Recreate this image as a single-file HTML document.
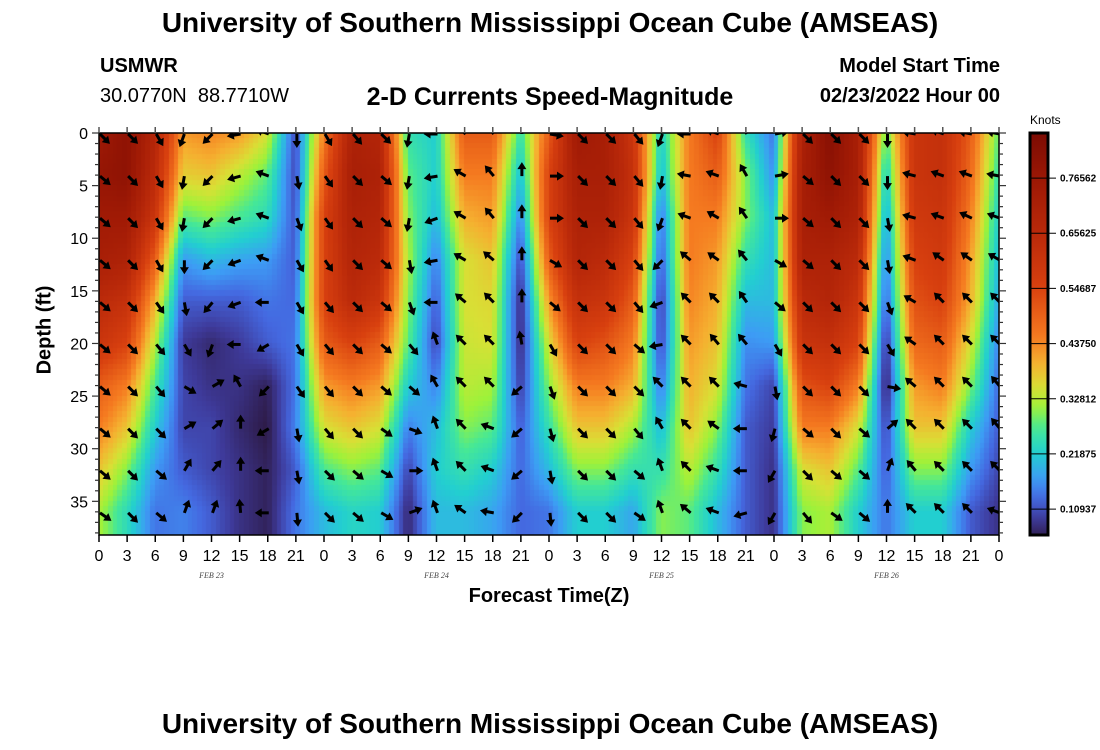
<!DOCTYPE html>
<html><head><meta charset="utf-8">
<style>
body{margin:0;background:#fff;width:1100px;height:750px;overflow:hidden;position:relative;font-family:"Liberation Sans",sans-serif;}
.t{position:absolute;white-space:nowrap;color:#000;}
canvas{position:absolute;left:99px;top:133px;}
svg{position:absolute;left:0;top:0;}
</style></head><body>
<div class="t" style="left:0;width:1100px;text-align:center;top:7px;font-size:28px;font-weight:bold;">University of Southern Mississippi Ocean Cube (AMSEAS)</div>
<div class="t" style="left:100px;top:55px;font-size:20px;font-weight:bold;">USMWR</div>
<div class="t" style="left:100px;top:85px;font-size:20px;">30.0770N&nbsp; 88.7710W</div>
<div class="t" style="left:0;width:1100px;text-align:center;top:83px;font-size:25px;font-weight:bold;">2-D Currents Speed-Magnitude</div>
<div class="t" style="right:100px;top:55px;font-size:20px;font-weight:bold;">Model Start Time</div>
<div class="t" style="right:100px;top:85px;font-size:20px;font-weight:bold;">02/23/2022 Hour 00</div>
<div class="t" style="left:0;width:1098px;text-align:center;top:585px;font-size:20px;font-weight:bold;">Forecast Time(Z)</div>
<div class="t" style="left:45px;top:330px;font-size:20px;font-weight:bold;transform:translate(-50%,-50%) rotate(-90deg);">Depth (ft)</div>
<div class="t" style="left:1030px;top:113px;font-size:12px;">Knots</div>
<div class="t" style="left:0;width:1100px;text-align:center;top:708px;font-size:28px;font-weight:bold;">University of Southern Mississippi Ocean Cube (AMSEAS)</div>
<canvas id="hm" width="900" height="402"></canvas>
<svg id="sv" width="1100" height="750"></svg>
<script>
const hours=[0,3,6,9,12,15,18,21,24,27,30,33,36,39,42,45,48,51,54,57,60,63,66,69,72,75,78,81,84,87,90,93,96];
const depths=[0,4,8,12,16,20,24,28,32,36];
const speed=[
[.75,.78,.75,.72,.65,.6,.5,.45,.38,.32],
[.8,.8,.75,.7,.62,.55,.45,.38,.3,.24],
[.68,.65,.6,.5,.4,.33,.27,.22,.17,.14],
[.42,.37,.28,.17,.12,.09,.1,.1,.12,.15],
[.44,.38,.3,.2,.12,.07,.08,.1,.1,.12],
[.42,.33,.27,.18,.12,.09,.08,.07,.08,.08],
[.35,.28,.24,.17,.14,.12,.06,.05,.06,.06],
[.1,.1,.11,.12,.13,.14,.14,.15,.12,.14],
[.45,.5,.55,.55,.55,.5,.42,.35,.27,.2],
[.7,.72,.7,.68,.65,.55,.45,.38,.3,.23],
[.68,.7,.68,.65,.6,.5,.42,.35,.28,.22],
[.25,.28,.3,.32,.3,.28,.22,.15,.1,.07],
[.22,.22,.2,.15,.12,.1,.15,.2,.22,.2],
[.5,.45,.4,.35,.35,.34,.33,.3,.25,.2],
[.5,.45,.42,.38,.36,.35,.32,.28,.22,.18],
[.25,.2,.15,.1,.07,.07,.09,.12,.13,.13],
[.5,.55,.55,.5,.42,.35,.3,.25,.2,.14],
[.75,.72,.7,.68,.62,.55,.45,.38,.3,.22],
[.72,.72,.7,.65,.6,.52,.45,.38,.3,.22],
[.6,.62,.6,.55,.5,.45,.4,.32,.25,.18],
[.22,.2,.14,.12,.09,.1,.14,.2,.25,.3],
[.45,.45,.45,.45,.44,.42,.4,.38,.33,.28],
[.55,.5,.45,.42,.4,.38,.35,.3,.25,.2],
[.25,.3,.3,.25,.2,.16,.14,.12,.12,.12],
[.14,.16,.2,.2,.2,.17,.1,.09,.08,.08],
[.7,.72,.72,.7,.65,.6,.52,.45,.35,.3],
[.82,.8,.75,.7,.68,.62,.55,.45,.38,.32],
[.72,.72,.7,.65,.6,.55,.45,.35,.28,.22],
[.28,.22,.18,.15,.12,.08,.06,.1,.12,.14],
[.6,.6,.58,.55,.52,.48,.42,.38,.3,.22],
[.62,.62,.6,.58,.55,.5,.45,.38,.3,.22],
[.5,.48,.45,.42,.4,.35,.3,.22,.17,.12],
[.28,.25,.22,.2,.18,.15,.13,.12,.1,.08]];
const direction=[
[45,40,40,40,40,40,40,40,40,35],
[45,45,45,45,45,45,45,45,45,45],
[60,60,60,60,55,50,50,45,40,40],
[110,100,100,90,80,60,30,330,300,290],
[135,135,135,135,130,110,330,320,310,290],
[170,165,165,160,160,180,240,270,270,265],
[200,200,200,200,180,150,135,150,180,180],
[90,80,70,60,60,60,55,80,80,85],
[60,55,55,55,50,50,50,50,45,45],
[50,45,45,45,45,45,45,45,40,40],
[45,40,40,40,40,40,40,35,30,30],
[100,100,100,80,70,50,40,20,0,340],
[180,170,160,170,180,250,240,250,250,250],
[220,210,210,210,220,225,225,225,225,215],
[230,230,230,220,225,225,225,200,200,190],
[270,270,270,270,270,260,140,140,140,135],
[10,0,0,30,40,60,70,75,80,85],
[45,45,45,45,45,45,45,45,45,45],
[45,45,45,45,45,45,45,45,45,45],
[50,50,50,50,50,40,45,50,40,35],
[110,100,110,135,160,170,225,240,250,250],
[180,190,200,220,225,225,225,225,225,220],
[200,200,210,215,225,230,225,215,200,200],
[240,240,235,230,235,230,195,180,180,165],
[350,350,0,30,40,60,80,105,120,120],
[45,40,40,40,45,45,45,40,45,50],
[45,45,45,45,45,45,45,45,40,35],
[45,45,45,45,45,45,45,40,40,40],
[90,90,80,80,70,60,10,320,290,270],
[190,195,195,200,210,215,220,225,230,225],
[200,200,200,215,225,225,225,225,225,225],
[190,200,205,215,225,225,225,225,225,225],
[190,190,200,210,225,225,230,230,225,200]];
const xTicks=[0,3,6,9,12,15,18,21,0,3,6,9,12,15,18,21,0,3,6,9,12,15,18,21,0,3,6,9,12,15,18,21,0];
const yTicks=[0,5,10,15,20,25,30,35];
const dateLabels=["FEB 23","FEB 24","FEB 25","FEB 26"];
const cbTicks=["0.76562","0.65625","0.54687","0.43750","0.32812","0.21875","0.10937"];
const cbVals=[0.765625,0.65625,0.546875,0.4375,0.328125,0.21875,0.109375];

const X0=99,X1=999,Y0=133,Y1=535,HMAX=96,DMAX=38.2;
const xs=h=>X0+(X1-X0)*h/HMAX;
const ys=d=>Y0+(Y1-Y0)*d/DMAX;
const CB_TOP=133,CB_BOT=535,VMAX=0.855,VMIN=0.058;
const cbY=v=>CB_TOP+(VMAX-v)/(VMAX-VMIN)*(CB_BOT-CB_TOP);
const stops=[[0.05,[45,26,69]],[0.09,[62,58,154]],[0.13,[68,104,224]],[0.17,[61,156,245]],[0.22,[34,207,208]],[0.27,[70,232,150]],[0.31,[156,242,58]],[0.35,[216,224,53]],[0.40,[245,176,48]],[0.45,[245,122,32]],[0.55,[216,64,15]],[0.65,[187,42,10]],[0.75,[160,26,5]],[0.86,[122,10,3]]];
function cmap(v){
  if(v<=stops[0][0])return stops[0][1];
  for(let i=1;i<stops.length;i++){if(v<=stops[i][0]){const a=stops[i-1],b=stops[i],t=(v-a[0])/(b[0]-a[0]);return a[1].map((c,k)=>Math.round(c+(b[1][k]-c)*t));}}
  return stops[stops.length-1][1];
}
const ctx=document.getElementById('hm').getContext('2d');
function sample(h,d){
  let i=Math.min(hours.length-2,Math.max(0,Math.floor(h/3)));let th=(h-hours[i])/3;th=Math.max(0,Math.min(1,th));
  let j=Math.min(depths.length-2,Math.max(0,Math.floor(d/4)));let td=(d-depths[j])/4;td=Math.max(0,Math.min(1,td));
  const a=speed[i][j]*(1-th)+speed[i+1][j]*th, b=speed[i][j+1]*(1-th)+speed[i+1][j+1]*th;
  return a*(1-td)+b*td;
}
const CW=9.375/2,CH=402/38.2*0.5;
for(let px=0;px<900;px+=CW){for(let py=0;py<402;py+=CH){
  const h=(px+CW/2)/900*HMAX,d=(py+CH/2)/402*DMAX;
  const c=cmap(sample(h,d));ctx.fillStyle=`rgb(${c[0]},${c[1]},${c[2]})`;
  ctx.fillRect(Math.floor(px),Math.floor(py),Math.ceil(CW)+1,Math.ceil(CH)+1);
}}
const NS='http://www.w3.org/2000/svg',sv=document.getElementById('sv');
function el(tag,attrs,txt,parent){const e=document.createElementNS(NS,tag);for(const k in attrs)e.setAttribute(k,attrs[k]);if(txt!==undefined)e.textContent=txt;(parent||sv).appendChild(e);return e;}
const defs=el('defs',{});
const cp=el('clipPath',{id:'plotclip'},undefined,defs);
el('rect',{x:X0,y:Y0,width:X1-X0,height:Y1-Y0},undefined,cp);
const arrows=el('g',{'clip-path':'url(#plotclip)'});


hours.forEach((h,i)=>depths.forEach((d,j)=>{
  const a=direction[i][j]*Math.PI/180,x=xs(h)+1,y=ys(d)+1,L=14;
  const ex=x+L*Math.cos(a),ey=y+L*Math.sin(a);
  const g=el('g',{},undefined,arrows);
  
  
  el('line',{x1:x,y1:y,x2:x+(L-5)*Math.cos(a),y2:y+(L-5)*Math.sin(a),stroke:'#000','stroke-width':3},undefined,g);
  const bx=ex-7*Math.cos(a),by=ey-7*Math.sin(a),nx=-Math.sin(a)*4.5,ny=Math.cos(a)*4.5;
  el('polygon',{points:`${ex},${ey} ${bx+nx},${by+ny} ${bx-nx},${by-ny}`,fill:'#000'},undefined,g);
}));
const fr=el('rect',{x:X0,y:Y0,width:X1-X0,height:Y1-Y0,fill:'none',stroke:'#000','stroke-width':1.5});


xTicks.forEach((t,i)=>{
  const x=xs(hours[i]);
  el('line',{x1:x,y1:Y1,x2:x,y2:Y1+7,stroke:'#000','stroke-width':1.5});
  el('line',{x1:x,y1:Y0,x2:x,y2:Y0-6,stroke:'#555','stroke-width':1.5});
  const tl=el('text',{x:x,y:Y1+26,'text-anchor':'middle','font-size':16,'font-family':'Liberation Sans, sans-serif'},t);
  
  
});
dateLabels.forEach((s,i)=>{
  const tl=el('text',{x:xs(12+24*i),y:578,'text-anchor':'middle','font-size':8,'font-style':'italic','font-family':'Liberation Serif, serif',fill:'#444'},s);
  
  
});
for(let d=0;d<=38;d++){
  const y=ys(d),big=d%5===0;
  el('line',{x1:X0-(big?7:4),y1:y,x2:X0,y2:y,stroke:'#333','stroke-width':1.2});
  el('line',{x1:X1,y1:y,x2:X1+(big?7:4),y2:y,stroke:'#333','stroke-width':1.2});
}
yTicks.forEach(t=>{
  const tl=el('text',{x:88,y:ys(t)+6,'text-anchor':'end','font-size':16,'font-family':'Liberation Sans, sans-serif'},t);
  
  
});
const gr=el('linearGradient',{id:'cbg',x1:0,y1:1,x2:0,y2:0},undefined,defs);
for(let k=0;k<=40;k++){const v=VMIN+(VMAX-VMIN)*k/40,c=cmap(v);el('stop',{offset:k/40,'stop-color':`rgb(${c[0]},${c[1]},${c[2]})`},undefined,gr);}
const cb=el('rect',{x:1030,y:CB_TOP,width:18,height:CB_BOT-CB_TOP,fill:'url(#cbg)',stroke:'#000','stroke-width':3});


cbTicks.forEach((t,i)=>{
  const y=cbY(cbVals[i]);
  el('line',{x1:1030,y1:y,x2:1056,y2:y,stroke:'#000','stroke-width':1});
  const tl=el('text',{x:1060,y:y+3.5,'font-size':10,'font-weight':'bold','font-family':'Liberation Sans, sans-serif'},t);
  
  
});
</script>
</body></html>
